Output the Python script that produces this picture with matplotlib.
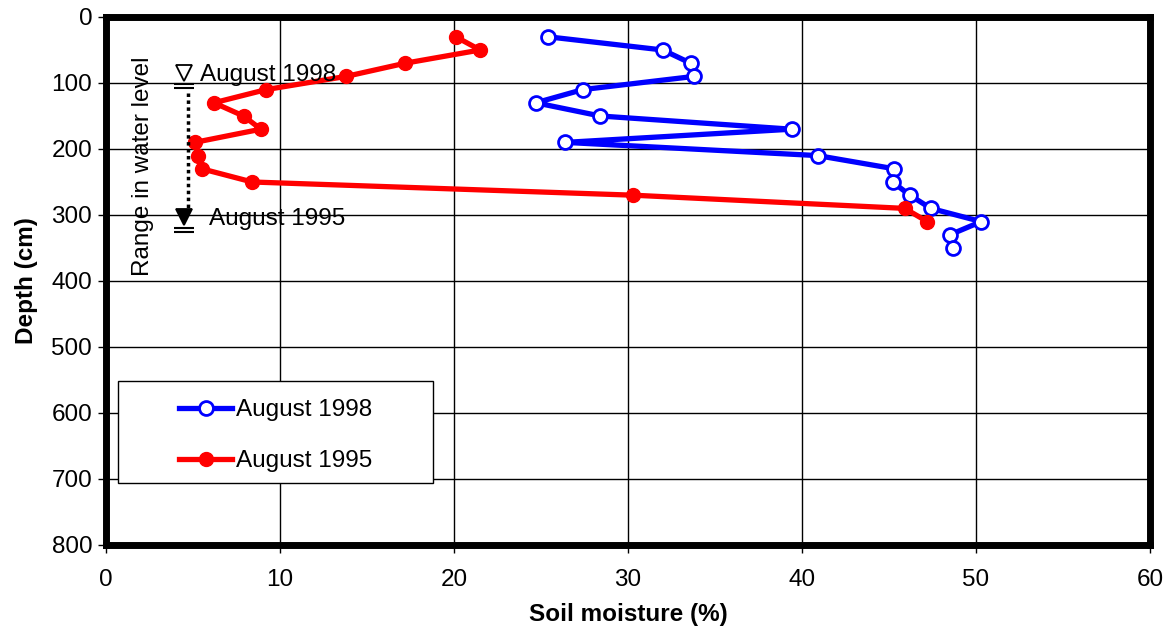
import matplotlib
matplotlib.use("Agg")
import matplotlib.pyplot as plt
from matplotlib.patches import Rectangle

plt.rcParams['font.family'] = ['Liberation Sans', 'DejaVu Sans']

# soil moisture profiles (depth in cm, moisture in %)
depth_1998 = [30, 50, 70, 90, 110, 130, 150, 170, 190, 210, 230, 250, 270, 290, 310, 330, 350]
moist_1998 = [25.4, 32.0, 33.6, 33.8, 27.4, 24.7, 28.4, 39.4, 26.4, 40.9, 45.3, 45.2, 46.2, 47.4, 50.3, 48.5, 48.7]
depth_1995 = [30, 50, 70, 90, 110, 130, 150, 170, 190, 210, 230, 250, 270, 290, 310]
moist_1995 = [20.1, 21.5, 17.2, 13.8, 9.2, 6.2, 7.9, 8.9, 5.1, 5.3, 5.5, 8.4, 30.3, 45.9, 47.2]

# water level markers
water_labels = ['August 1998', 'August 1995']
water_depth = [97, 315]
water_x = 4.48
water_text_x = [5.4, 5.9]

x_ticks = [0, 10, 20, 30, 40, 50, 60]
y_ticks = [0, 100, 200, 300, 400, 500, 600, 700, 800]

fs = 17.5

fig = plt.figure(figsize=(11.68, 6.34), dpi=100)
ax = fig.add_axes([0.0908, 0.1404, 0.8938, 0.8328])

ax.plot(moist_1998, depth_1998, color='#0000FF', lw=3.8, marker='o', ms=10,
        mfc='white', mec='#0000FF', mew=2, label='August 1998', zorder=4)
ax.plot(moist_1995, depth_1995, color='#FF0000', lw=3.8, marker='o', ms=10,
        mfc='#FF0000', mec='#FF0000', label='August 1995', zorder=4)

# water level symbols
for i, (lab, d) in enumerate(zip(water_labels, water_depth)):
    face = 'black' if i == 1 else 'white'
    ax.plot([water_x], [d - 12], marker='v', ms=12, mfc=face, mec='black',
            mew=1.3, ls='none', zorder=5)
    ax.plot([water_x, water_x], [d + 4, d + 11], marker='_', ms=15, mew=1.5,
            color='black', ls='none', zorder=5)
    ax.text(water_text_x[i], d - 9, lab, fontsize=fs, va='center', ha='left', zorder=5)

ax.plot([4.7, 4.7], [water_depth[0] + 18, water_depth[1] - 21], ls=(0, (1, 1)),
        lw=2.5, color='black', zorder=5)
ax.text(2.1, 226, 'Range in water level', rotation=90, va='center', ha='center', fontsize=fs)

ax.set_xlim(0, 60)
ax.set_ylim(800, 0)
ax.set_xticks(x_ticks)
ax.set_yticks(y_ticks)
ax.grid(True, color='black', lw=1.0)
ax.set_axisbelow(True)
for s in ax.spines.values():
    s.set_linewidth(5)
ax.tick_params(labelsize=fs, direction='out', length=6, width=1)
ax.tick_params(axis='x', pad=11)
ax.tick_params(axis='y', pad=4)
ax.set_xlabel('Soil moisture (%)', fontsize=fs, fontweight='bold', labelpad=9)
ax.set_ylabel('Depth (cm)', fontsize=fs, fontweight='bold', labelpad=10)

# legend box
ax.add_patch(Rectangle((0.0115, 0.1174), 0.3017, 0.1932, transform=ax.transAxes,
                       facecolor='white', edgecolor='black', lw=1, zorder=6))
leg = ax.legend(loc='center', bbox_to_anchor=(0.1624, 0.207), frameon=False,
                fontsize=fs, handlelength=2.2, handletextpad=0.15, labelspacing=1.2)
leg.set_zorder(7)

fig.savefig('out.png', dpi=100)
